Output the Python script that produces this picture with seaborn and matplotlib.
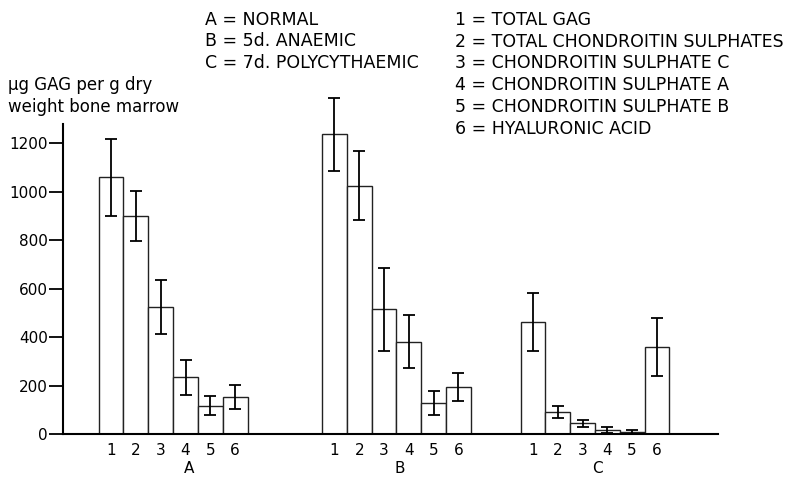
import pandas as pd
import matplotlib
matplotlib.use("Agg")
import matplotlib.pyplot as plt
import seaborn as sns

# === Data ===
groups = ["A", "B", "C"]
components = ["1", "2", "3", "4", "5", "6"]
group_start = [0, 9, 17]          # bar-slot where each group begins
group_label_x = [3.15, 11.65, 19.6]

mean_A = [1060, 900, 525, 235, 118, 155]
err_A = [158, 103, 112, 72, 40, 50]
mean_B = [1237, 1025, 515, 382, 130, 195]
err_B = [150, 143, 170, 110, 49, 58]
mean_C = [462, 92, 45, 18, 10, 361]
err_C = [120, 24, 13, 14, 9, 120]

group_legend = ["A = NORMAL", "B = 5d. ANAEMIC", "C = 7d. POLYCYTHAEMIC"]
comp_legend = ["1 = TOTAL GAG", "2 = TOTAL CHONDROITIN SULPHATES",
               "3 = CHONDROITIN SULPHATE C", "4 = CHONDROITIN SULPHATE A",
               "5 = CHONDROITIN SULPHATE B", "6 = HYALURONIC ACID"]
y_label = ["\u03bcg GAG per g dry", "weight bone marrow"]

# === Build long table ===
rows = []
for g, start, means, errs in zip(groups, group_start,
                                 [mean_A, mean_B, mean_C],
                                 [err_A, err_B, err_C]):
    for i, (c, m, e) in enumerate(zip(components, means, errs)):
        rows.append({"group": g, "component": c, "pos": start + i,
                     "value": m, "err": e})
df = pd.DataFrame(rows)

sns.set_style("ticks")
plt.rcParams["font.family"] = ["DejaVu Sans"]
plt.rcParams["text.color"] = "black"
plt.rcParams["xtick.color"] = "black"
plt.rcParams["ytick.color"] = "black"

fig = plt.figure(figsize=(8.03, 4.8), dpi=100)
ax = fig.add_axes([0.0785, 0.0952, 0.8157, 0.6458])

sns.barplot(data=df, x="pos", y="value", native_scale=True, width=1,
            color="white", edgecolor="#222222", linewidth=1.0,
            errorbar=None, ax=ax)
eb = ax.errorbar(df["pos"], df["value"], yerr=df["err"], fmt="none",
                 ecolor="black", elinewidth=1.3, capsize=4.5, capthick=1.3)
for artist in eb.lines[1] + eb.lines[2]:
    artist.set_clip_on(False)

ax.set_xlim(-1.935, 24.46)
ax.set_ylim(0, 1278)
ax.set_yticks(range(0, 1201, 200))
ax.set_xticks(df["pos"])
ax.set_xticklabels(df["component"])
ax.set_xlabel("")
ax.set_ylabel("")
ax.tick_params(axis="y", length=10, width=1.3, pad=1, labelsize=11)
ax.tick_params(axis="x", length=0, pad=6, labelsize=11)
for s in ["top", "right"]:
    ax.spines[s].set_visible(False)
for s in ["left", "bottom"]:
    ax.spines[s].set_linewidth(1.5)
    ax.spines[s].set_color("black")

for g, gx in zip(groups, group_label_x):
    ax.text(gx, -0.11, g, transform=ax.get_xaxis_transform(),
            ha="center", va="center", fontsize=11)

# === Header texts ===
W, H = 803, 480
for k, t in enumerate(group_legend):
    fig.text(205 / W, 1 - (20 + 21.5 * k) / H, t, ha="left", va="center",
             fontsize=12.5)
for k, t in enumerate(comp_legend):
    fig.text(455 / W, 1 - (20 + 21.7 * k) / H, t, ha="left", va="center",
             fontsize=12.5)
for k, t in enumerate(y_label):
    fig.text(8 / W, 1 - (85 + 21.7 * k) / H, t, ha="left", va="center",
             fontsize=12)

fig.savefig("out.png", dpi=100)
